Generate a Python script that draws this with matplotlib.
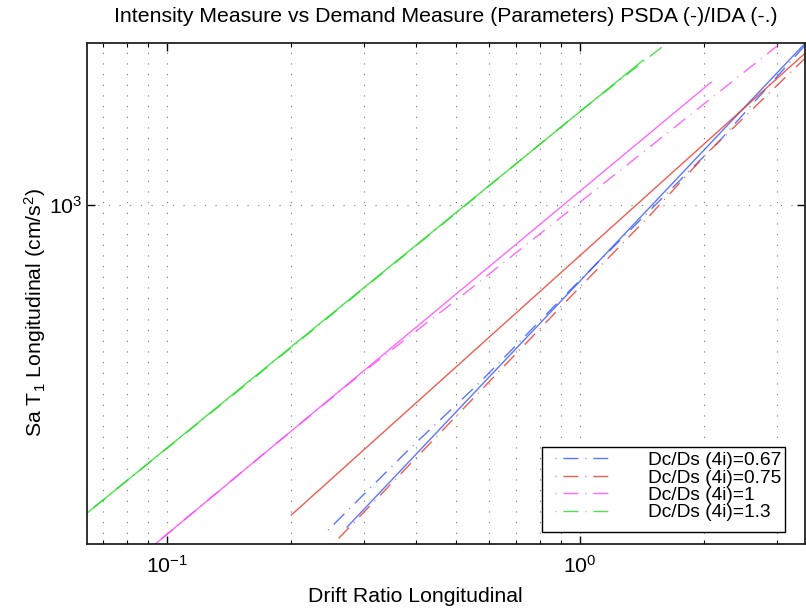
import matplotlib
matplotlib.use("Agg")
import matplotlib.pyplot as plt
from matplotlib.patches import Rectangle
from matplotlib.ticker import NullLocator, NullFormatter, LogLocator

plt.rcParams['font.family'] = ['Liberation Sans', 'DejaVu Sans']
plt.rcParams['mathtext.fontset'] = 'custom'
plt.rcParams['mathtext.rm'] = 'Liberation Sans'
plt.rcParams['mathtext.it'] = 'Liberation Sans'

# PSDA (straight fits) and IDA (median curves), drift ratio vs Sa
labels = ['Dc/Ds (4i)=0.67', 'Dc/Ds (4i)=0.75', 'Dc/Ds (4i)=1', 'Dc/Ds (4i)=1.3']
colors = ['#3355ff', '#ee3322', '#ff44ff', '#22dd22']

psda_x_067 = [0.2728, 3.506]
psda_y_067 = [165.4, 2472]
ida_x_067 = [0.2454, 0.3834, 0.5726, 0.8946, 1.477, 2.183, 3.506]
ida_y_067 = [162.7, 254.2, 371.9, 588, 972, 1438, 2445]

psda_x_075 = [0.2, 3.506]
psda_y_075 = [177, 2338]
ida_x_075 = [0.2523, 0.5123, 0.9458, 1.477, 2.03, 3.506]
ida_y_075 = [150.3, 314.6, 597.9, 945.6, 1337, 2274]

psda_x_1 = [0.0935, 2.076]
psda_y_1 = [150.3, 1988]
ida_x_1 = [0.0935, 0.159, 0.298, 0.512, 1.344, 3.016]
ida_y_1 = [150.3, 234, 393, 598, 1286, 2445]

psda_x_13 = [0.064, 1.421]
psda_y_13 = [178.8, 2248]
ida_x_13 = [0.064, 0.16, 0.45, 1.0, 1.62]
ida_y_13 = [179, 376, 876, 1690, 2470]

psda = [(psda_x_067, psda_y_067), (psda_x_075, psda_y_075),
        (psda_x_1, psda_y_1), (psda_x_13, psda_y_13)]
ida = [(ida_x_067, ida_y_067), (ida_x_075, ida_y_075),
       (ida_x_1, ida_y_1), (ida_x_13, ida_y_13)]

fs = 15.3
fig = plt.figure(figsize=(8.06, 6.08), dpi=100)
ax = fig.add_axes([0.108, 0.105, 0.891, 0.824])

dashdot = (0, (0.7, 5, 10.8, 5))
for (x, y), c, lab in zip(ida, colors, labels):
    ax.plot(x, y, color=c, lw=1.0, alpha=0.8, linestyle=dashdot, label=lab)
for (x, y), c in zip(psda, colors):
    ax.plot(x, y, color=c, lw=1.0, alpha=0.8, linestyle='-')

ax.set_xscale('log')
ax.set_yscale('log')
ax.set_xlim(0.064, 3.506)
ax.set_ylim(150.3, 2472)

ax.xaxis.set_minor_locator(LogLocator(base=10, subs=range(2, 10)))
ax.xaxis.set_minor_formatter(NullFormatter())
ax.yaxis.set_minor_locator(NullLocator())

dots = (0, (1, 8.6))
ax.grid(True, which='major', color='#777777', linestyle=dots, lw=0.8)
ax.grid(True, which='minor', axis='x', color='#777777', linestyle=dots, lw=0.8)

ax.tick_params(which='both', direction='in', top=True, right=True, labelsize=fs)
ax.tick_params(which='major', length=6, width=1)
ax.tick_params(axis='x', which='major', pad=8)
ax.tick_params(axis='y', which='major', pad=3)
ax.tick_params(which='minor', length=3, width=0.8)
for s in ax.spines.values():
    s.set_color('#222222')
    s.set_linewidth(1.3)

ax.set_title('Intensity Measure vs Demand Measure (Parameters) PSDA (-)/IDA (-.)',
             fontsize=fs, pad=15)
ax.set_xlabel('Drift Ratio Longitudinal', fontsize=fs)
ax.set_ylabel('Sa T$_1$ Longitudinal (cm/s$^2$)', fontsize=fs)
ax.xaxis.set_label_coords(0.457, -0.085)
ax.yaxis.set_label_coords(-0.055, 0.463)

# legend frame is narrower than its text, as in the original
ax.add_patch(Rectangle((0.6337, 0.024), 0.3384, 0.1697, transform=ax.transAxes,
                       facecolor='white', edgecolor='black', lw=1.0, zorder=4.9))
leg = ax.legend(loc='upper left', bbox_to_anchor=(0.652, 0.1846), fontsize=13.8,
                handlelength=2.82, handletextpad=2.03, labelspacing=0.0,
                borderpad=0, borderaxespad=0, frameon=False)
leg.set_zorder(5)

fig.savefig('out.png', dpi=100)
